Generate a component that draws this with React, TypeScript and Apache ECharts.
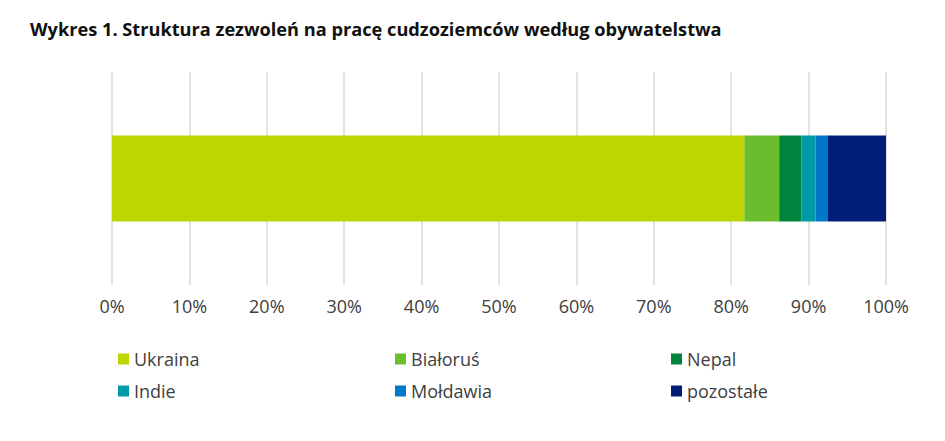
import React, { useEffect, useRef } from "react";
import * as echarts from "echarts";

const categories = ["Ogółem"];
const seriesNames = ["Ukraina", "Białoruś", "Nepal", "Indie", "Mołdawia", "pozostałe"];
const seriesValues = [81.7, 4.5, 2.9, 1.8, 1.6, 7.5];
const seriesColors = ["#BED600", "#6ABD2D", "#00843E", "#0099A8", "#0077C8", "#001E78"];
const tickLabels = ["0%", "10%", "20%", "30%", "40%", "50%", "60%", "70%", "80%", "90%", "100%"];
const titleText = "Wykres 1. Struktura zezwoleń na pracę cudzoziemców według obywatelstwa";

const FONT = "'Open Sans', 'Noto Sans', sans-serif";

export default function App() {
  const ref = useRef<HTMLDivElement>(null);
  useEffect(() => {
    if (!ref.current) return;
    const chart = echarts.init(ref.current, undefined, { renderer: "svg" });
    const legendCols = [
      [seriesNames[0], seriesNames[3]],
      [seriesNames[1], seriesNames[4]],
      [seriesNames[2], seriesNames[5]],
    ];
    const legendLefts = [105, 382, 658];
    chart.setOption({
      animation: false,
      graphic: [
        {
          type: "text",
          left: 22,
          top: 12,
          style: {
            text: titleText,
            font: `bold 18.2px ${FONT}`,
            fill: "#111111",
          },
        },
      ],
      grid: { left: 104, right: 51, top: 64, height: 213, containLabel: false },
      xAxis: {
        type: "value",
        min: 0,
        max: 100,
        interval: 10,
        axisLine: { show: false },
        axisTick: { show: false },
        splitLine: { show: true, lineStyle: { color: "#D9D9D9", width: 1.5 } },
        axisLabel: {
          margin: 12,
          fontSize: 18,
          fontFamily: FONT,
          color: "#404040",
          formatter: (v: number) => tickLabels[Math.round(v / 10)] ?? "",
        },
      },
      yAxis: {
        type: "category",
        data: categories,
        show: false,
      },
      legend: legendCols.map((col, i) => ({
        data: col,
        orient: "vertical",
        left: legendLefts[i],
        top: 337,
        itemWidth: 11,
        itemHeight: 11,
        itemGap: 14,
        icon: "rect",
        textStyle: { fontSize: 18, fontFamily: FONT, color: "#404040" },
        selectedMode: false,
      })),
      series: seriesNames.map((name, i) => ({
        name,
        type: "bar",
        stack: "total",
        data: [seriesValues[i]],
        barWidth: 86,
        itemStyle: { color: seriesColors[i] },
      })),
    });
    return () => chart.dispose();
  }, []);
  return <div ref={ref} style={{ width: 929, height: 425 }} />;
}
